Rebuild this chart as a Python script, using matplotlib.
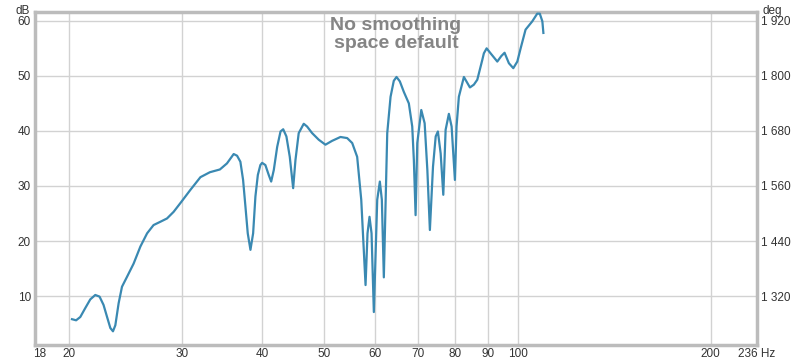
import matplotlib.pyplot as plt
from matplotlib.ticker import FixedLocator, NullLocator

plt.rcParams["font.family"] = ["Liberation Sans", "DejaVu Sans"]

# frequency response (Hz, dB)
freq = [20.2, 20.5, 20.81, 21.18, 21.57, 21.96, 22.30, 22.62, 22.95, 23.18,
        23.40, 23.60, 23.88, 24.17, 24.61, 25.20, 25.82, 26.45, 27.07, 27.74,
        28.41, 29.09, 29.81, 30.90, 32.03, 33.14, 34.35, 35.23, 36.09, 36.53,
        36.97, 37.33, 37.65, 37.96, 38.33, 38.70, 39.02, 39.36, 39.72, 39.97,
        40.44, 40.93, 41.29, 41.68, 42.19, 42.70, 43.11, 43.61, 44.14, 44.68,
        45.05, 45.58, 46.41, 46.97, 47.83, 48.98, 50.17, 51.39, 52.95, 54.24,
        55.23, 56.22, 57.05, 57.94, 58.35, 58.77, 59.2, 59.69, 60.42, 60.99,
        61.43, 61.87, 62.63, 63.38, 64.12, 64.75, 65.53, 66.47, 67.68, 68.51,
        68.91, 69.34, 69.76, 70.77, 71.63, 72.33, 72.99, 73.81, 74.53, 75.12,
        75.87, 76.59, 77.23, 78.14, 78.91, 79.85, 80.32, 80.99, 82.47, 84.27,
        85.47, 86.53, 88.10, 88.6, 89.48, 90.76, 92.97, 94.32, 95.43, 96.92,
        98.47, 99.9, 101.1, 102.9, 105.4, 107.3, 108.3, 109.3, 109.7]
spl = [5.8, 5.6, 6.2, 7.8, 9.4, 10.2, 9.9, 8.4, 5.9, 4.2,
       3.6, 4.7, 8.7, 11.7, 13.5, 15.9, 19.0, 21.4, 22.9, 23.5,
       24.1, 25.3, 26.9, 29.3, 31.6, 32.5, 33.0, 34.1, 35.8, 35.5,
       34.4, 31.1, 26.2, 21.4, 18.4, 21.4, 28.1, 32.0, 33.8, 34.2,
       33.8, 32.0, 30.8, 32.9, 37.1, 39.9, 40.3, 39.0, 35.3, 29.6,
       34.7, 39.6, 41.3, 40.8, 39.6, 38.4, 37.5, 38.2, 38.9, 38.7,
       37.8, 35.3, 27.5, 12.0, 21.4, 24.4, 21.4, 7.1, 27.5, 30.8,
       27.5, 13.4, 39.6, 46.2, 49.1, 49.8, 49.0, 47.1, 45.0, 40.8,
       34.7, 24.7, 37.8, 43.8, 41.4, 32.9, 22.0, 33.5, 39.0, 39.9,
       35.9, 28.4, 40.2, 43.1, 40.8, 31.1, 40.8, 46.2, 49.8, 47.9,
       48.4, 49.3, 52.9, 54.1, 55.0, 54.1, 52.6, 53.6, 54.2, 52.3,
       51.4, 52.6, 55.0, 58.4, 59.9, 61.3, 61.3, 59.9, 57.8]

x_ticks = [18, 20, 30, 40, 50, 60, 70, 80, 90, 100, 200, 236]
x_labels = ["18", "20", "30", "40", "50", "60", "70", "80", "90", "100", "200", "236 Hz"]
x_grid = [20, 30, 40, 50, 60, 70, 80, 90, 100, 200]
db_ticks = [10, 20, 30, 40, 50, 60]
deg_ticks = [1320, 1440, 1560, 1680, 1800, 1920]

fig = plt.figure(figsize=(8, 3.64), dpi=100)
ax = fig.add_axes([0.044, 0.052, 0.902, 0.915])

ax.set_xscale("log")
ax.set_xlim(17.7, 236)
ax.set_ylim(1.1, 61.6)

for f in x_grid:
    ax.axvline(f, color="#d2d2d2", lw=1, zorder=0)
for d in db_ticks:
    ax.axhline(d, color="#d2d2d2", lw=1, zorder=0)

ax.plot(freq, spl, color="#3a89b2", lw=1.6, zorder=3)

ax.xaxis.set_major_locator(FixedLocator(x_ticks))
ax.xaxis.set_minor_locator(NullLocator())
ax.set_xticklabels(x_labels)
ax.set_yticks(db_ticks)
ax.tick_params(length=0, labelsize=8.5, labelcolor="#333333")
ax.tick_params(axis="x", pad=2)
ax.tick_params(axis="y", pad=3)

for s in ax.spines.values():
    s.set_color("#bcbcbc")
    s.set_linewidth(2.5)

ax2 = ax.twinx()
ax2.set_ylim(1320 + (1.1 - 10) * 12, 1320 + (61.6 - 10) * 12)
ax2.set_yticks(deg_ticks)
ax2.set_yticklabels([f"{t // 1000} {t % 1000:03d}" for t in deg_ticks])
ax2.tick_params(length=0, labelsize=8.5, labelcolor="#333333", pad=3)
for s in ax2.spines.values():
    s.set_visible(False)

fig.text(0.028, 0.985, "dB", fontsize=8.5, color="#333333", ha="center", va="top")
fig.text(0.965, 0.985, "deg", fontsize=8.5, color="#333333", ha="center", va="top")

ax.text(0.5, 0.985, "No smoothing\nspace default", transform=ax.transAxes,
        ha="center", va="top", fontsize=14, fontweight="bold", color="#858585",
        linespacing=1.1, zorder=5)

fig.savefig("out.png", dpi=100)
